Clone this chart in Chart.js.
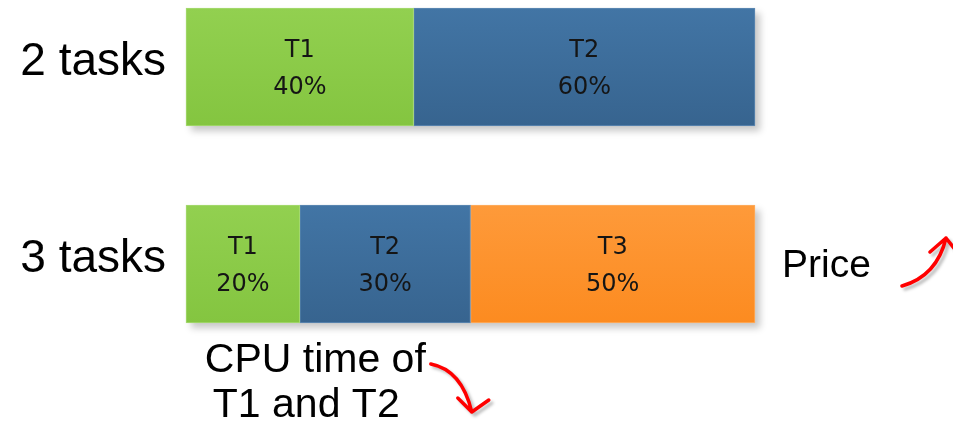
<!DOCTYPE html>
<html>
<head>
<meta charset="utf-8">
<script src="https://cdn.jsdelivr.net/npm/chart.js@4"></script>
<style>
  body { margin: 0; background: #fff; }
  #wrap { width: 953px; height: 421px; position: relative; }
</style>
</head>
<body>
<div id="wrap"><canvas id="cpuChart"></canvas></div>
<script>
// rows and task shares (percent of CPU time)
const rows = ['2 tasks', '3 tasks'];
const taskNames = ['T1', 'T2', 'T3'];
const t1Share = [40, 20];
const t2Share = [60, 30];
const t3Share = [null, 50];

// gradient top / bottom per task
const topColors = ['#92d050', '#4275a5', '#fe9a3a'];
const bottomColors = ['#84c540', '#37648f', '#fc8b20'];
const edgeColors = ['#a6da72', '#5f8ab4', '#fdae62'];
const barHeight = 118;

function fillFor(i) {
  return function (c) {
    var chart = c.chart;
    var ys = chart.scales.y;
    if (!ys || !chart.chartArea || c.dataIndex === undefined) return topColors[i];
    var yc = ys.getPixelForValue(c.dataIndex);
    var g = chart.ctx.createLinearGradient(0, yc - barHeight / 2, 0, yc + barHeight / 2);
    g.addColorStop(0, topColors[i]);
    g.addColorStop(1, bottomColors[i]);
    return g;
  };
}

// soft shadow behind each whole row
const rowShadow = {
  id: 'rowShadow',
  beforeDatasetsDraw(chart) {
    var ctx = chart.ctx;
    for (var r = 0; r < rows.length; r++) {
      var left = Infinity, right = -Infinity, y = 0, h = 0;
      chart.data.datasets.forEach(function (ds, i) {
        var el = chart.getDatasetMeta(i).data[r];
        if (!el || ds.data[r] == null) return;
        left = Math.min(left, el.base, el.x);
        right = Math.max(right, el.base, el.x);
        y = el.y; h = el.height;
      });
      if (left === Infinity) continue;
      ctx.save();
      ctx.shadowColor = 'rgba(0,0,0,0.22)';
      ctx.shadowBlur = 7;
      ctx.shadowOffsetX = 5;
      ctx.shadowOffsetY = 5;
      ctx.fillStyle = '#ddd';
      ctx.fillRect(left, y - h / 2, right - left, h);
      ctx.restore();
    }
  }
};

// "T1 / 40%" text inside each segment
const segLabels = {
  id: 'segLabels',
  afterDatasetsDraw(chart) {
    var ctx = chart.ctx;
    ctx.save();
    ctx.font = '24px "DejaVu Sans"';
    ctx.fillStyle = '#151515';
    ctx.textAlign = 'center';
    ctx.textBaseline = 'middle';
    chart.data.datasets.forEach(function (ds, i) {
      chart.getDatasetMeta(i).data.forEach(function (el, j) {
        if (ds.data[j] == null) return;
        var cx = (el.x + el.base) / 2;
        ctx.fillText(taskNames[i], cx, el.y - 16);
        ctx.fillText(ds.data[j] + '%', cx, el.y + 21);
      });
    });
    ctx.restore();
  }
};

function arrow(ctx, pts, head) {
  ctx.beginPath();
  ctx.moveTo(pts[0][0], pts[0][1]);
  ctx.quadraticCurveTo(pts[1][0], pts[1][1], pts[2][0], pts[2][1]);
  ctx.moveTo(head[0][0], head[0][1]);
  ctx.lineTo(pts[2][0], pts[2][1]);
  ctx.lineTo(head[1][0], head[1][1]);
  ctx.stroke();
}

// notes: "Price" going up, "CPU time of T1 and T2" going down
const notes = {
  id: 'notes',
  afterDraw(chart) {
    var ctx = chart.ctx;
    var xs = chart.scales.x, ys = chart.scales.y;
    var right = xs.getPixelForValue(100);
    var y2 = ys.getPixelForValue(1);
    var t1End = xs.getPixelForValue(20);
    var barBottom = y2 + barHeight / 2;

    ctx.save();
    ctx.fillStyle = '#000';
    ctx.textBaseline = 'middle';
    ctx.textAlign = 'left';
    ctx.font = '39px "Liberation Sans", Arial, sans-serif';
    ctx.fillText('Price', right + 27, y2 + 2);
    ctx.font = '41px "Liberation Sans", Arial, sans-serif';
    ctx.fillText('CPU time of', t1End - 95, barBottom + 38);
    ctx.fillText('T1 and T2', t1End - 87, barBottom + 83);

    ctx.strokeStyle = '#ff0000';
    ctx.lineWidth = 3.5;
    ctx.lineCap = 'round';
    ctx.lineJoin = 'round';
    ctx.shadowColor = 'rgba(0,0,0,0.25)';
    ctx.shadowBlur = 3;
    ctx.shadowOffsetX = 3;
    ctx.shadowOffsetY = 3;
    var ax = right, ay = y2;
    arrow(ctx,
      [[ax + 147, ay + 22], [ax + 182, ay + 12], [ax + 191, ay - 26]],
      [[ax + 175, ay - 12], [ax + 202, ay - 12]]);
    var bx = t1End, by = barBottom;
    arrow(ctx,
      [[bx + 131, by + 41], [bx + 162, by + 47], [bx + 172, by + 89]],
      [[bx + 158, by + 75], [bx + 189, by + 77]]);
    ctx.restore();
  }
};

var datasets = [t1Share, t2Share, t3Share].map(function (vals, i) {
  return {
    label: taskNames[i],
    data: vals,
    backgroundColor: fillFor(i),
    borderColor: edgeColors[i],
    borderWidth: 1,
    borderSkipped: false,
    barThickness: barHeight,
    clip: false
  };
});

var ctx = document.getElementById('cpuChart').getContext('2d');
var cpuChart = new Chart(ctx, {
  type: 'bar',
  data: { labels: rows, datasets: datasets },
  options: {
    indexAxis: 'y',
    responsive: true,
    maintainAspectRatio: false,
    animation: false,
    layout: { padding: { top: 67, bottom: 157, left: 0, right: 198 } },
    plugins: { legend: { display: false }, tooltip: { enabled: false } },
    scales: {
      x: { stacked: true, min: 0, max: 100, display: false },
      y: {
        stacked: true,
        offset: false,
        grid: { display: false, drawTicks: false },
        border: { display: false },
        ticks: {
          color: '#000',
          padding: 20,
          labelOffset: -5,
          font: { family: '"Liberation Sans", Arial, sans-serif', size: 46 }
        },
        afterFit: function (s) { s.width = 186; }
      }
    }
  },
  plugins: [rowShadow, segLabels, notes]
});
</script>
</body>
</html>
